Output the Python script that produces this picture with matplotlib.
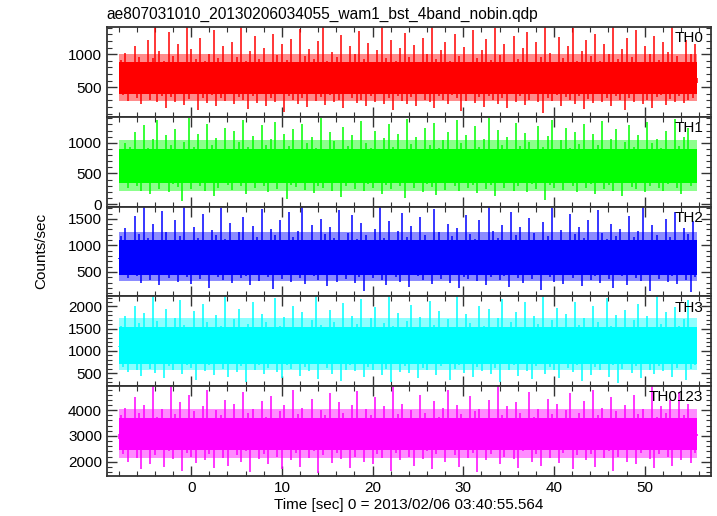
import numpy as np
import matplotlib
matplotlib.use('Agg')
import matplotlib.pyplot as plt
from matplotlib.ticker import MultipleLocator

# 时间范围 (秒)
t_start = -8.0
t_end = 55.8

# 各通道计数率 (Counts/sec)
th0 = [640, 910, 380, 1020, 290, 870, 420, 1130, 330, 960, 250, 880, 400, 1210, 310, 940,
       1420, 270, 1050, 360, 900, 190, 1330, 350, 980, 280, 1160, 410, 860, 230, 1410, 320,
       1080, 390, 920, 150, 1240, 340, 890, 260, 1010, 380, 1360, 210, 940, 330, 1120, 290,
       870, 400, 1190, 240, 960, 350, 1420, 300, 900, 170, 1050, 370, 1270, 260, 930, 390,
       1100, 220, 880, 340, 1310, 280, 990, 410, 1150, 120, 910, 360, 1230, 310, 860, 250,
       1380, 330, 970, 200, 1080, 390, 920, 290, 1200, 350, 1420, 230, 890, 380, 1040, 270,
       950, 310, 1290, 180, 870, 400, 1130, 340, 1000, 260, 1350, 300, 920, 210, 1170, 360,
       880, 280, 1060, 390, 1410, 240, 940, 330, 1220, 160, 900, 370, 1090, 290, 1320, 250,
       960, 350, 1140, 220, 880, 400, 1250, 310, 1010, 270, 1420, 190, 930, 360, 1070, 300,
       1190, 240, 890, 380, 1300, 330, 970, 140, 1110, 290, 880, 410, 1370, 260, 940, 350,
       1060, 200, 1230, 370, 910, 300, 1400, 250, 990, 340, 1150, 180, 870, 390, 1280, 280,
       930, 360, 1090, 230, 1340, 310, 880, 400, 1180, 270, 960, 110, 1420, 330, 1020, 290,
       870, 380, 1260, 210, 940, 350, 1120, 300, 1390, 240, 900, 370, 1050, 170, 1210, 320,
       980, 260, 1310, 390, 890, 280, 1160, 340, 1000, 220, 1420, 360, 920, 300, 1080, 150,
       1240, 330, 950, 270, 1360, 400, 880, 240, 1130, 310, 1010, 190, 1270, 350, 910, 380,
       1190, 230, 1040, 320, 1420, 280, 970, 360, 880, 260, 1220, 300, 1000, 340, 1150, 560]

th1 = [620, 880, 350, 1000, 270, 930, 410, 1180, 300, 850, 220, 1290, 380, 920, 160, 1060,
       340, 1370, 250, 890, 400, 1120, 190, 960, 330, 1230, 280, 870, 50, 1010, 360, 1400,
       240, 940, 390, 1150, 300, 880, 210, 1310, 350, 970, 130, 1080, 270, 900, 410, 1250,
       320, 860, 230, 1190, 380, 1020, 290, 1380, 170, 930, 340, 1110, 260, 880, 400, 1290,
       300, 970, 200, 1060, 360, 1340, 250, 890, 390, 1140, 80, 950, 320, 1220, 280, 870,
       410, 1310, 230, 990, 350, 1090, 180, 920, 300, 1400, 270, 860, 380, 1170, 220, 1030,
       340, 900, 120, 1260, 290, 950, 400, 1120, 250, 880, 360, 1350, 210, 1000, 330, 920,
       270, 1200, 390, 870, 160, 1080, 310, 1300, 240, 940, 370, 1150, 290, 860, 100, 1390,
       350, 980, 260, 1100, 400, 890, 200, 1240, 330, 960, 280, 1320, 150, 910, 370, 1050,
       230, 1180, 340, 870, 300, 1370, 210, 990, 390, 1130, 260, 900, 320, 1270, 180, 940,
       380, 1060, 240, 1400, 310, 880, 140, 1210, 350, 970, 270, 1090, 400, 860, 220, 1330,
       290, 950, 360, 1160, 190, 1020, 330, 890, 250, 1280, 370, 930, 60, 1110, 310, 1380,
       260, 870, 400, 1040, 230, 1250, 340, 910, 290, 1170, 200, 980, 360, 1300, 270, 890,
       330, 1140, 170, 960, 390, 1360, 250, 900, 310, 1070, 220, 1230, 350, 880, 130, 1010,
       380, 1290, 280, 940, 240, 1120, 340, 870, 190, 1340, 300, 990, 370, 1060, 260, 920,
       210, 1200, 330, 880, 390, 1390, 270, 950, 160, 1100, 350, 1250, 290, 900, 380, 620]

th2 = [750, 1180, 460, 1320, 380, 1090, 520, 1560, 420, 1210, 300, 1730, 480, 1130, 350, 1400,
       500, 1050, 260, 1640, 440, 1250, 390, 1100, 530, 1480, 320, 1170, 470, 1730, 400, 1060,
       280, 1350, 510, 1140, 360, 1590, 450, 1080, 200, 1290, 490, 1190, 410, 1700, 340, 1120,
       520, 1430, 290, 1060, 460, 1260, 380, 1540, 430, 1110, 250, 1370, 500, 1160, 330, 1680,
       470, 1090, 400, 1310, 180, 1200, 540, 1470, 360, 1070, 440, 1620, 310, 1150, 490, 1280,
       390, 1730, 270, 1100, 510, 1380, 420, 1050, 350, 1500, 460, 1210, 230, 1340, 480, 1130,
       320, 1660, 440, 1080, 370, 1240, 520, 1570, 290, 1120, 410, 1420, 150, 1190, 500, 1070,
       380, 1300, 450, 1730, 340, 1140, 260, 1450, 530, 1090, 400, 1270, 310, 1610, 470, 1160,
       220, 1360, 490, 1060, 420, 1530, 350, 1200, 460, 1100, 280, 1690, 510, 1250, 370, 1080,
       440, 1410, 300, 1170, 480, 1320, 190, 1060, 410, 1580, 360, 1220, 520, 1120, 330, 1470,
       460, 1090, 250, 1730, 400, 1280, 500, 1140, 340, 1390, 430, 1050, 210, 1630, 470, 1190,
       380, 1340, 290, 1100, 520, 1520, 360, 1230, 450, 1080, 160, 1440, 490, 1170, 410, 1700,
       320, 1110, 470, 1290, 270, 1060, 530, 1600, 390, 1210, 440, 1350, 230, 1130, 500, 1480,
       350, 1070, 420, 1660, 300, 1240, 480, 1120, 370, 1400, 200, 1180, 510, 1310, 430, 1090,
       260, 1550, 460, 1150, 390, 1270, 330, 1730, 490, 1100, 140, 1380, 440, 1200, 370, 1060,
       500, 1490, 310, 1160, 420, 1620, 280, 1080, 470, 1330, 350, 1210, 120, 1450, 400, 760]

th3 = [1080, 1560, 640, 1780, 520, 1490, 730, 2010, 580, 1620, 430, 1860, 700, 1450, 600, 2225,
       510, 1680, 760, 1530, 380, 1940, 660, 1470, 570, 1750, 720, 2150, 480, 1580, 690, 1420,
       620, 1890, 350, 1510, 740, 2060, 550, 1640, 680, 1460, 460, 1800, 710, 1560, 590, 2225,
       410, 1490, 770, 1720, 530, 1950, 650, 1430, 300, 1610, 730, 2100, 560, 1500, 690, 1830,
       480, 1660, 610, 1440, 750, 2190, 520, 1570, 400, 1770, 680, 1480, 590, 2000, 720, 1540,
       440, 1870, 640, 1460, 550, 1700, 760, 2225, 370, 1590, 700, 1420, 610, 1920, 490, 1650,
       730, 1510, 330, 2080, 580, 1450, 680, 1790, 540, 1600, 750, 2160, 420, 1490, 640, 1730,
       570, 1980, 710, 1440, 460, 1630, 600, 2225, 290, 1550, 740, 1850, 530, 1470, 670, 1680,
       500, 2040, 720, 1520, 390, 1760, 620, 1430, 560, 2130, 700, 1580, 450, 1900, 660, 1460,
       760, 1710, 340, 1540, 590, 2225, 680, 1480, 510, 1820, 730, 1620, 410, 1450, 640, 2020,
       550, 1570, 700, 1940, 470, 1500, 610, 1740, 310, 2170, 750, 1430, 580, 1660, 690, 1880,
       430, 1520, 720, 2090, 540, 1460, 360, 1790, 660, 1600, 760, 2225, 490, 1470, 630, 1700,
       570, 1960, 400, 1530, 740, 1840, 610, 1440, 520, 2110, 680, 1580, 330, 1750, 710, 1490,
       460, 2000, 640, 1640, 560, 1450, 750, 2200, 420, 1560, 690, 1810, 280, 1510, 600, 1920,
       730, 1470, 500, 1690, 650, 2060, 380, 1540, 720, 1780, 580, 1430, 470, 2225, 660, 1610,
       540, 1870, 700, 1480, 410, 1990, 620, 1550, 760, 1720, 350, 2140, 590, 1500, 680, 1100]

th0123 = [2900, 3800, 2300, 4100, 2000, 3650, 2450, 4500, 2150, 3900, 1700, 4200, 2500, 3550, 1900, 4930,
          2250, 3750, 2550, 4050, 1800, 3600, 2400, 4930, 2100, 3850, 2600, 4300, 1650, 3700, 2350, 4600,
          2200, 3950, 1950, 3500, 2500, 4150, 2050, 4800, 2300, 3650, 1750, 4000, 2450, 3800, 2150, 4400,
          1850, 3550, 2550, 4250, 2250, 3700, 2000, 4700, 2400, 3900, 1600, 4050, 2500, 3600, 2100, 4350,
          2300, 3750, 1900, 4550, 2450, 3500, 2200, 3950, 1700, 4200, 2550, 3650, 2050, 4800, 2350, 3850,
          1800, 4100, 2500, 3550, 2150, 4450, 2400, 3700, 1550, 4000, 2250, 3800, 2600, 4650, 1950, 3600,
          2350, 4300, 2100, 3900, 2500, 3550, 1750, 4200, 2200, 4750, 2450, 3650, 2000, 4050, 2550, 3800,
          1900, 4500, 2300, 3600, 2150, 4150, 2450, 3500, 1650, 4930, 2350, 3850, 2050, 4250, 2550, 3700,
          2200, 4000, 1850, 3550, 2500, 4600, 2100, 3900, 2400, 3650, 1700, 4350, 2300, 3750, 2550, 4100,
          2000, 4800, 2450, 3600, 2250, 4200, 1800, 3850, 2500, 3500, 2150, 4550, 2350, 3950, 1600, 4050,
          2600, 3700, 2050, 4400, 2300, 3600, 2450, 4930, 1900, 3800, 2200, 4150, 2500, 3550, 2100, 4300,
          1750, 3900, 2400, 3650, 2550, 4700, 2000, 3750, 2300, 4050, 1850, 3600, 2450, 4450, 2150, 3850,
          2500, 4250, 1950, 3550, 2350, 4000, 2600, 4650, 1700, 3700, 2250, 3900, 2450, 4350, 2050, 3600,
          2300, 4800, 1800, 3800, 2550, 4100, 2150, 3500, 2400, 4500, 1650, 3950, 2200, 3700, 2500, 4200,
          2000, 3650, 2450, 4600, 1900, 3850, 2350, 4050, 2550, 3550, 2100, 4930, 1750, 3750, 2300, 4150,
          2500, 3900, 2200, 4400, 1850, 3600, 2450, 4700, 2050, 3800, 2600, 4250, 1950, 3650, 2350, 3000]

bands = ['TH0', 'TH1', 'TH2', 'TH3', 'TH0123']
series = [th0, th1, th2, th3, th0123]

# 噪声主体的范围 (密集部分 / 外围稀疏部分)
core_lo = [400, 340, 440, 700, 2450]
core_hi = [880, 900, 1100, 1540, 3700]
halo_lo = [290, 220, 330, 560, 2150]
halo_hi = [1010, 1040, 1260, 1730, 4050]

colors = ['#ff0000', '#00ff00', '#0000ff', '#00ffff', '#ff00ff']
ylims = [(52, 1412), (-40, 1425), (40, 1730), (205, 2225), (1445, 4930)]
ymajor = [500, 500, 500, 500, 1000]
yminor = [100, 100, 100, 100, 200]

plt.rcParams['font.family'] = ['Liberation Sans', 'DejaVu Sans']
plt.rcParams['font.size'] = 11

fig, axes = plt.subplots(5, 1, sharex=True, figsize=(7.17, 5.16), dpi=100)
fig.subplots_adjust(left=0.149, right=0.9916, top=0.9477, bottom=0.0775, hspace=0)

for i, ax in enumerate(axes):
    vals = np.array(series[i], dtype=float)
    c = colors[i]
    t = np.linspace(t_start, t_end, len(vals))
    mid = (core_lo[i] + core_hi[i]) / 2
    ax.fill_between([t_start, t_end], halo_lo[i], halo_hi[i], color=c, alpha=0.45, lw=0)
    ax.fill_between([t_start, t_end], core_lo[i], core_hi[i], color=c, lw=0)
    ax.vlines(t, mid, vals, color=c, lw=1.1)
    ax.set_ylim(*ylims[i])
    ax.set_xlim(-9.3, 57.3)
    ax.yaxis.set_major_locator(MultipleLocator(ymajor[i]))
    ax.yaxis.set_minor_locator(MultipleLocator(yminor[i]))
    ax.xaxis.set_major_locator(MultipleLocator(10))
    ax.xaxis.set_minor_locator(MultipleLocator(2))
    ax.tick_params(which='both', direction='in', top=True, right=True, colors='#333333',
                   labelcolor='black', labelsize=11)
    ax.tick_params(which='major', length=7, width=1)
    ax.tick_params(which='minor', length=3.5, width=0.8)
    for s in ax.spines.values():
        s.set_color('#333333')
        s.set_linewidth(1.3)
    ax.text(0.987, 0.875, bands[i], transform=ax.transAxes, ha='right', va='center', fontsize=11)

fig.text(0.149, 0.972, 'ae807031010_20130206034055_wam1_bst_4band_nobin.qdp',
         ha='left', va='center', fontsize=11.2)
fig.text(0.057, 0.513, 'Counts/sec', rotation=90, ha='center', va='center', fontsize=11)
axes[-1].set_xlabel('Time [sec] 0 = 2013/02/06 03:40:55.564', fontsize=11, labelpad=2)

plt.savefig('out.png', dpi=100)
